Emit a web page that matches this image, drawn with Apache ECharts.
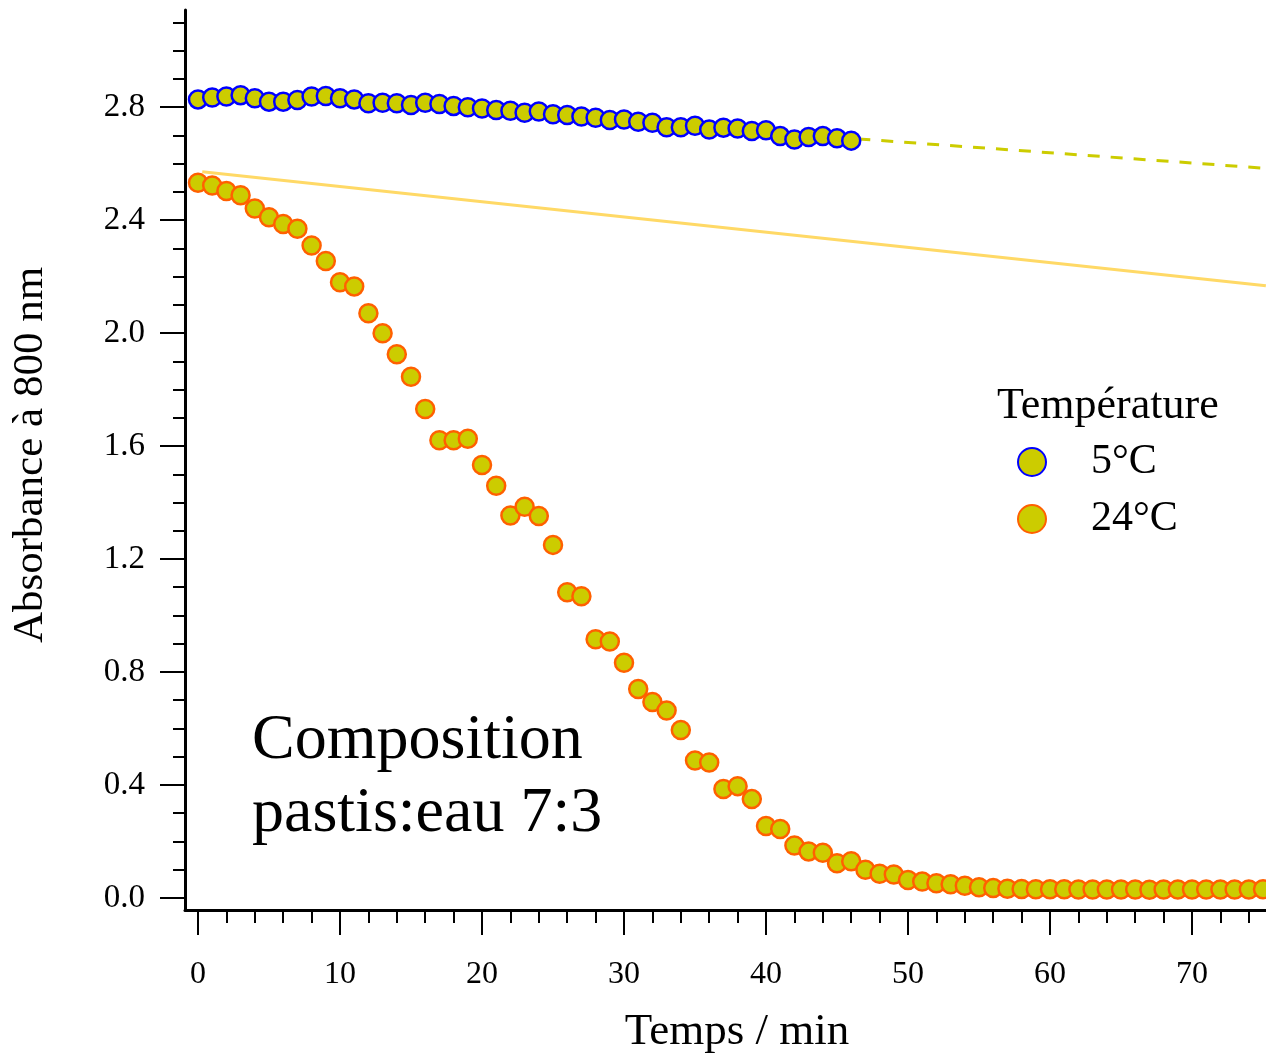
<!DOCTYPE html>
<html><head><meta charset="utf-8">
<script src="https://cdn.jsdelivr.net/npm/echarts@6/dist/echarts.min.js"></script>
<style>html,body{margin:0;padding:0;background:#fff}#c{width:1266px;height:1056px}</style>
</head><body><div id="c"></div><script>
// ---- data ----
const time5 = [0,1,2,3,4,5,6,7,8,9,10,11,12,13,14,15,16,17,18,19,20,21,22,23,24,25,26,27,28,29,30,31,32,33,34,35,36,37,38,39,40,41,42,43,44,45,46];
const abs5 = [2.827,2.834,2.837,2.842,2.831,2.819,2.819,2.825,2.837,2.839,2.831,2.827,2.813,2.815,2.813,2.807,2.815,2.811,2.804,2.799,2.795,2.789,2.787,2.780,2.784,2.774,2.772,2.766,2.762,2.754,2.756,2.748,2.744,2.728,2.728,2.734,2.720,2.727,2.724,2.715,2.718,2.697,2.685,2.694,2.697,2.689,2.681];
const time24 = [0,1,2,3,4,5,6,7,8,9,10,11,12,13,14,15,16,17,18,19,20,21,22,23,24,25,26,27,28,29,30,31,32,33,34,35,36,37,38,39,40,41,42,43,44,45,46,47,48,49,50,51,52,53,54,55,56,57,58,59,60,61,62,63,64,65,66,67,68,69,70,71,72,73,74,75];
const abs24 = [2.532,2.522,2.503,2.488,2.441,2.410,2.386,2.369,2.310,2.255,2.180,2.165,2.070,1.999,1.925,1.845,1.731,1.620,1.620,1.626,1.533,1.459,1.354,1.385,1.352,1.250,1.082,1.068,0.916,0.908,0.833,0.740,0.694,0.664,0.595,0.487,0.480,0.386,0.396,0.350,0.255,0.244,0.186,0.165,0.160,0.123,0.130,0.100,0.086,0.083,0.064,0.058,0.052,0.049,0.043,0.038,0.035,0.033,0.032,0.031,0.031,0.031,0.030,0.030,0.030,0.030,0.030,0.029,0.030,0.030,0.030,0.030,0.030,0.030,0.030,0.031];
const fit5Time = [46.5, 75.2];
const fit5Abs = [2.687, 2.583];
const fit24Time = [0.3, 75.2];
const fit24Abs = [2.571, 2.167];
const xMajorTicks = [0,10,20,30,40,50,60,70];
const xMinorTicks = [0,2,4,6,8,10,12,14,16,18,20,22,24,26,28,30,32,34,36,38,40,42,44,46,48,50,52,54,56,58,60,62,64,66,68,70,72,74];
const yMajorTicks = [0,0.4,0.8,1.2,1.6,2.0,2.4,2.8];
const yMinorTicks = [0,0.1,0.2,0.3,0.4,0.5,0.6,0.7,0.8,0.9,1.0,1.1,1.2,1.3,1.4,1.5,1.6,1.7,1.8,1.9,2.0,2.1,2.2,2.3,2.4,2.5,2.6,2.7,2.8,2.9,3.0,3.1];
const seriesNames = ['5°C', '24°C'];
const legendTitle = 'Température';
const xTitle = 'Temps / min';
const yTitle = 'Absorbance à 800 nm';
const noteLines = ['Composition', 'pastis:eau 7:3'];

// ---- chart ----
const FONT = '"Liberation Serif", "DejaVu Serif", serif';
const X_MIN = -0.9155, X_MAX = 75.21;
const Y_MIN = -0.0425, Y_MAX = 3.1434;
const zip = (a, b) => a.map((v, i) => [v, b[i]]);
const chart = echarts.init(document.getElementById('c'), null, {renderer: 'canvas'});
const axisCommon = {type: 'value', gridIndex: 0, splitLine: {show: false}};
chart.setOption({
  animation: false,
  backgroundColor: '#fff',
  grid: {left: 185, right: 0, top: 10, bottom: 146, containLabel: false},
  xAxis: [
    Object.assign({}, axisCommon, {
      min: X_MIN, max: X_MAX, position: 'bottom',
      axisLine: {show: true, onZero: false, lineStyle: {color: '#000', width: 3}},
      axisTick: {show: true, customValues: xMajorTicks, length: 25, lineStyle: {color: '#000', width: 2}},
      axisLabel: {show: true, customValues: xMajorTicks, margin: 49, fontSize: 32, fontFamily: FONT, color: '#000', formatter: v => String(v)}
    }),
    Object.assign({}, axisCommon, {
      min: X_MIN, max: X_MAX, position: 'bottom', offset: 0,
      axisLine: {show: false, onZero: false},
      axisTick: {show: true, customValues: xMinorTicks, length: 13, lineStyle: {color: '#000', width: 2}},
      axisLabel: {show: false}
    })
  ],
  yAxis: [
    Object.assign({}, axisCommon, {
      min: Y_MIN, max: Y_MAX, position: 'left',
      axisLine: {show: true, onZero: false, lineStyle: {color: '#000', width: 3}},
      axisTick: {show: true, customValues: yMajorTicks, length: 25, lineStyle: {color: '#000', width: 2}},
      axisLabel: {show: true, customValues: yMajorTicks, margin: 40, fontSize: 33, fontFamily: FONT, color: '#000', formatter: v => v.toFixed(1)}
    }),
    Object.assign({}, axisCommon, {
      min: Y_MIN, max: Y_MAX, position: 'left', offset: 0,
      axisLine: {show: false, onZero: false},
      axisTick: {show: true, customValues: yMinorTicks, length: 12, lineStyle: {color: '#000', width: 2}},
      axisLabel: {show: false}
    })
  ],
  legend: {
    data: seriesNames,
    orient: 'vertical',
    left: 1017, top: 441,
    padding: 0,
    itemWidth: 28, itemHeight: 28, itemGap: 15,
    icon: 'circle',
    textStyle: {fontFamily: FONT, fontSize: 42, color: '#000', lineHeight: 28, padding: [0, 0, 0, 40]}
  },
  series: [
    {name: 'fit24', type: 'line', data: zip(fit24Time, fit24Abs), symbol: 'none', z: 1,
     lineStyle: {color: '#ffd966', width: 3}, silent: true},
    {name: 'fit5', type: 'line', data: zip(fit5Time, fit5Abs), symbol: 'none', z: 1,
     lineStyle: {color: '#cccc00', width: 3, type: [12, 11]}, silent: true},
    {name: seriesNames[0], type: 'scatter', data: zip(time5, abs5), symbol: 'circle', symbolSize: 18, z: 3,
     itemStyle: {color: '#cccc00', borderColor: '#0000ff', borderWidth: 2.5, opacity: 1}},
    {name: seriesNames[1], type: 'scatter', data: zip(time24, abs24), symbol: 'circle', symbolSize: 18, z: 3,
     itemStyle: {color: '#cccc00', borderColor: '#ff6000', borderWidth: 2.5, opacity: 1}}
  ],
  graphic: [
    {type: 'text', left: 997, top: 384, style: {text: legendTitle, fontFamily: FONT, fontSize: 44, fill: '#000'}},
    {type: 'text', x: 737, y: 1032, style: {text: xTitle, fontFamily: FONT, fontSize: 45, fill: '#000', align: 'center', verticalAlign: 'middle'}},
    {type: 'text', x: 31, y: 455, rotation: Math.PI / 2, style: {text: yTitle, fontFamily: FONT, fontSize: 43, fill: '#000', align: 'center', verticalAlign: 'middle'}},
    {type: 'text', x: 252, y: 741, style: {text: noteLines[0], fontFamily: FONT, fontSize: 64, fill: '#000', verticalAlign: 'middle'}},
    {type: 'text', x: 252, y: 814, style: {text: noteLines[1], fontFamily: FONT, fontSize: 64, fill: '#000', verticalAlign: 'middle'}}
  ]
});
</script></body></html>
